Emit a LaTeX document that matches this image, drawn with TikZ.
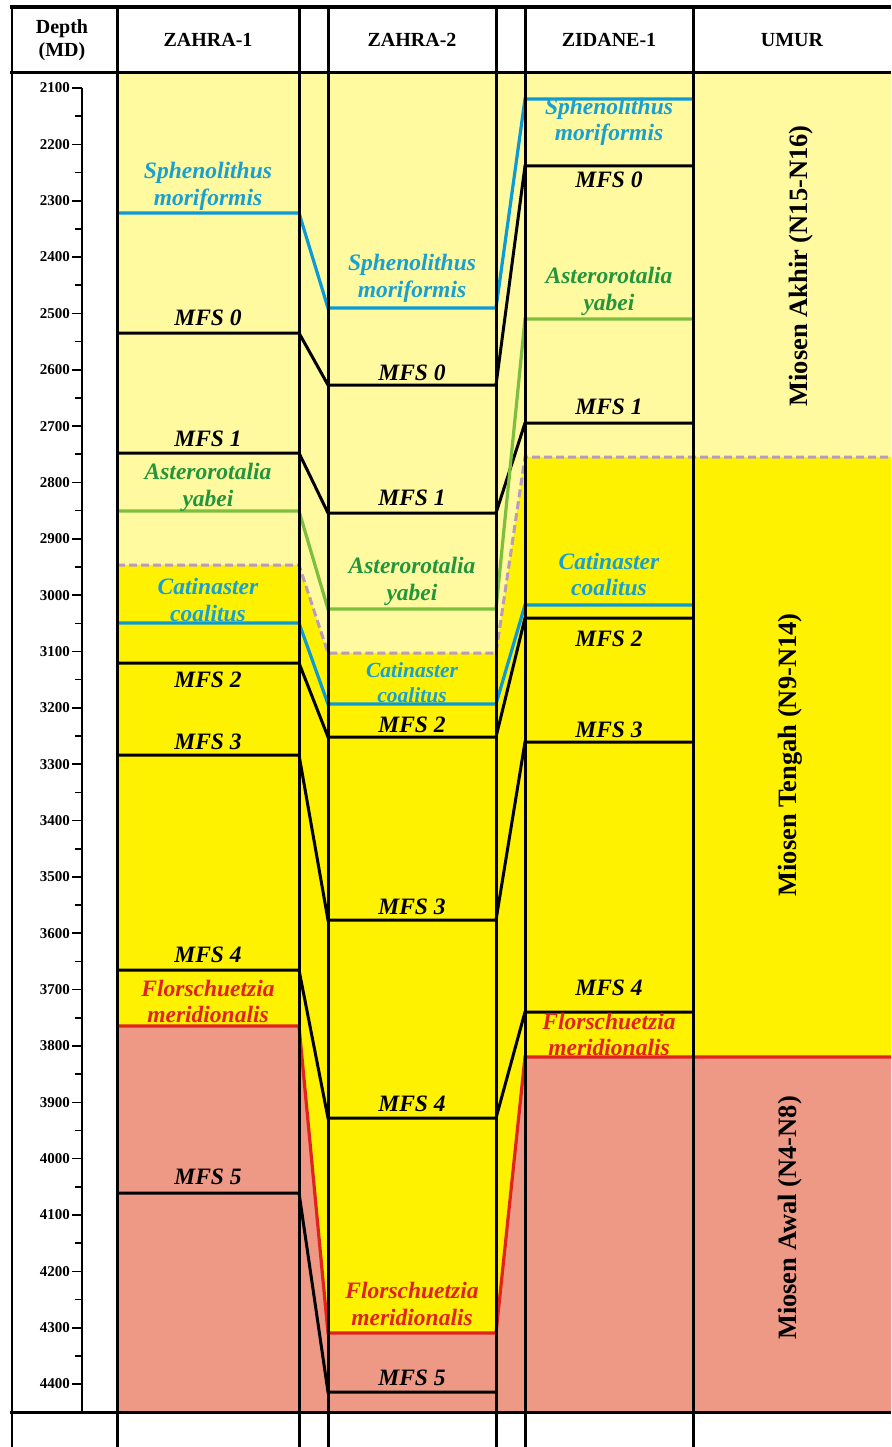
\documentclass[tikz,border=0pt]{standalone}
\usepackage{fontspec}
\setmainfont{Liberation Serif}
\definecolor{lightyel}{RGB}{255,249,160}
\definecolor{brightyel}{RGB}{255,242,0}
\definecolor{salmon}{RGB}{237,153,133}
\definecolor{blueline}{RGB}{10,155,215}
\definecolor{bluetext}{RGB}{25,160,210}
\definecolor{greenline}{RGB}{125,190,60}
\definecolor{greentext}{RGB}{35,150,60}
\definecolor{redline}{RGB}{225,35,30}
\definecolor{dashcol}{RGB}{185,155,192}
\newcommand\hzn[4]{\draw[#1] (117,#2) -- (299,#2) -- (328,#3) -- (496,#3) -- (525,#4) -- (693,#4);}
\begin{document}
\begin{tikzpicture}[x=1pt,y=-1pt,
  mfs/.style={line width=3pt,black},
  blueh/.style={line width=3.2pt,blueline},
  greenh/.style={line width=3.2pt,greenline},
  redh/.style={line width=3.2pt,redline},
  dashh/.style={line width=3pt,dashcol,dash pattern=on 8pt off 4pt},
  frame/.style={line width=3pt,black},
  lab/.style={inner sep=0pt,font=\fontsize{23.5}{26.5}\selectfont\bfseries\itshape,align=center},
  smalllab/.style={inner sep=0pt,font=\fontsize{21.5}{24.5}\selectfont\bfseries\itshape,align=center},
  head/.style={inner sep=0pt,font=\fontsize{20}{23}\selectfont\bfseries,align=center},
  era/.style={inner sep=0pt,rotate=90,font=\fontsize{26.5}{30}\selectfont\bfseries},
  tick/.style={line width=1.6pt,black},
  depthlab/.style={inner sep=0pt,anchor=east,font=\fontsize{15}{16}\selectfont\bfseries}]
\useasboundingbox (0,0) rectangle (891,1447);
% fills
\fill[lightyel] (117,73) -- (891,73) -- (891,457) -- (525,457) -- (496,653) -- (328,653) -- (299,565) -- (117,565) -- cycle;
\fill[brightyel] (117,565) -- (299,565) -- (328,653) -- (496,653) -- (525,457) -- (891,457) -- (891,1057) -- (525,1057) -- (496,1333) -- (328,1333) -- (299,1026) -- (117,1026) -- cycle;
\fill[salmon] (117,1026) -- (299,1026) -- (328,1333) -- (496,1333) -- (525,1057) -- (891,1057) -- (891,1412) -- (117,1412) -- cycle;
% MFS horizons
\hzn{mfs}{333}{385}{166}
\hzn{mfs}{453}{513}{423}
\hzn{mfs}{663}{737}{618}
\hzn{mfs}{755}{920}{742}
\hzn{mfs}{970}{1118}{1012}
\draw[mfs] (117,1193) -- (299,1193) -- (328,1392) -- (496,1392);
% biostratigraphic markers
\hzn{greenh}{511}{609}{319}
\hzn{blueh}{213}{308}{99}
\hzn{blueh}{623}{704}{605}
\draw[dashh] (117,565) -- (299,565) -- (328,653) -- (496,653) -- (525,457) -- (891,457);
\draw[redh] (117,1026) -- (299,1026) -- (328,1333) -- (496,1333) -- (525,1057) -- (891,1057);
% frame
\foreach \xx in {117,299,328,496,525,693} {\draw[frame] (\xx,7) -- (\xx,1447);}
\draw[line width=2.5pt] (12,7) -- (12,1447);
\draw[line width=4pt] (10,7) -- (891,7);
\draw[frame] (10,73) -- (891,73);
\draw[frame] (10,1412) -- (891,1412);
% depth axis
\draw[line width=2pt] (82,88) -- (82,1412);
\foreach \d in {2100,2200,...,4400} {
  \pgfmathsetmacro\yy{88+(\d-2100)*0.5635}
  \draw[tick] (72,\yy) -- (82,\yy);
  \node[depthlab] (d\d) at (70,\yy) {\d};
}
\foreach \d in {2150,2250,...,4350} {
  \pgfmathsetmacro\yy{88+(\d-2100)*0.5635}
  \draw[tick] (75,\yy) -- (82,\yy);
}
% headers
\node[head] (hdepth) at (62,40) {Depth\\(MD)};
\node[head] (hz1) at (208,40) {ZAHRA-1};
\node[head] (hz2) at (412,40) {ZAHRA-2};
\node[head] (hzi) at (609,40) {ZIDANE-1};
\node[head] (humur) at (792,40) {UMUR};
% era labels
\node[era] (akhir) at (801,266) {Miosen Akhir (N15-N16)};
\node[era] (tengah) at (790,755) {Miosen Tengah (N9-N14)};
\node[era] (awal) at (790,1218) {Miosen Awal (N4-N8)};
% ZAHRA-1 labels
\node[lab,bluetext] (a1) at (208,186.5) {Sphenolithus\\moriformis};
\node[lab] (a2) at (208,318) {MFS 0};
\node[lab] (a3) at (208,439) {MFS 1};
\node[lab,greentext] (a4) at (208,487.5) {Asterorotalia\\yabei};
\node[lab,bluetext] (a5) at (208,600) {Catinaster\\coalitus};
\node[lab] (a6) at (208,680) {MFS 2};
\node[lab] (a7) at (208,742) {MFS 3};
\node[lab] (a8) at (208,955) {MFS 4};
\node[lab,redline] (a9) at (208,1001.5) {Florschuetzia\\meridionalis};
\node[lab] (a10) at (208,1177) {MFS 5};
% ZAHRA-2 labels
\node[lab,bluetext] (b1) at (412,278.5) {Sphenolithus\\moriformis};
\node[lab] (b2) at (412,373) {MFS 0};
\node[lab] (b3) at (412,498) {MFS 1};
\node[lab,greentext] (b4) at (412,581.5) {Asterorotalia\\yabei};
\node[smalllab,bluetext] (b5) at (412,682.5) {Catinaster\\coalitus};
\node[lab] (b6) at (412,725) {MFS 2};
\node[lab] (b7) at (412,907) {MFS 3};
\node[lab] (b8) at (412,1104) {MFS 4};
\node[lab,redline] (b9) at (412,1304) {Florschuetzia\\meridionalis};
\node[lab] (b10) at (412,1378) {MFS 5};
% ZIDANE-1 labels
\node[lab,bluetext] (c1) at (609,122) {Sphenolithus\\moriformis};
\node[lab] (c2) at (609,180) {MFS 0};
\node[lab,greentext] (c3) at (609,291.5) {Asterorotalia\\yabei};
\node[lab] (c4) at (609,407) {MFS 1};
\node[lab,bluetext] (c5) at (609,574.5) {Catinaster\\coalitus};
\node[lab] (c6) at (609,639) {MFS 2};
\node[lab] (c7) at (609,730) {MFS 3};
\node[lab] (c8) at (609,988) {MFS 4};
\node[lab,redline] (c9) at (609,1034.5) {Florschuetzia\\meridionalis};
\end{tikzpicture}
\end{document}
